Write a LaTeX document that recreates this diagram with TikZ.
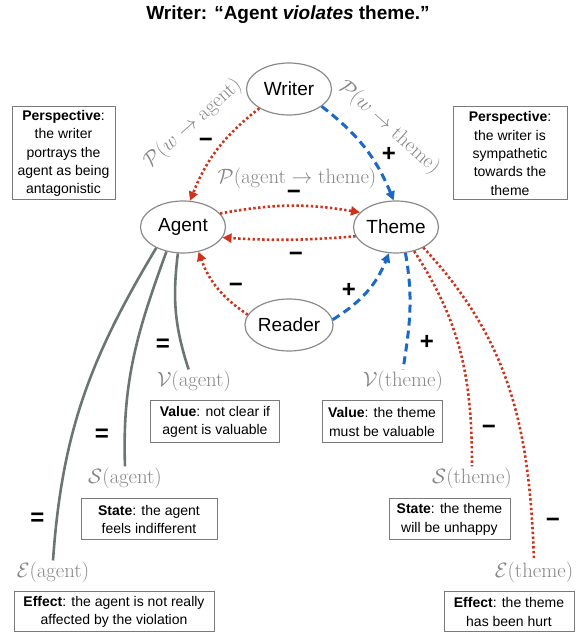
\documentclass[tikz,border=0pt]{standalone}
\usepackage{fix-cm}
\usepackage[no-math]{fontspec}
\setmainfont{Liberation Sans}
\usetikzlibrary{arrows.meta}
\usetikzlibrary{shapes.geometric}

\definecolor{negred}{HTML}{D0311A}
\definecolor{posblue}{HTML}{1A68C8}
\definecolor{neutgray}{HTML}{6C7671}
\definecolor{labgray}{HTML}{878787}
\definecolor{ringgray}{HTML}{8A8A8A}
\definecolor{boxgray}{HTML}{7A7A7A}

\begin{document}
\begin{tikzpicture}[x=1pt,y=1pt,
  role/.style={ellipse, draw=ringgray, line width=1.2pt, minimum width=85pt, minimum height=52pt, inner sep=0pt, font=\fontsize{19}{22}\selectfont},
  note/.style={draw=boxgray, line width=1pt, align=center, inner sep=2pt, font=\fontsize{14}{18.3}\selectfont},
  mlab/.style={text=labgray, inner sep=1pt, font=\fontsize{20.74}{24}\selectfont},
  sign/.style={inner sep=0pt, font=\fontsize{24}{24}\selectfont\bfseries},
  negline/.style={negred, line width=2.6pt, dash pattern=on 2.4pt off 2.4pt},
  posline/.style={posblue, line width=3pt, dash pattern=on 8pt off 5pt},
  neutline/.style={neutgray, line width=2.6pt},
  negarc/.style={negline, -{Triangle[length=9pt,width=9pt]}},
  posarc/.style={posline, -{Triangle[length=9pt,width=9pt]}}]
\useasboundingbox (0,0) rectangle (585,635);

\node[font=\fontsize{19}{22}\selectfont\bfseries] (title) at (288,620) {Writer: “Agent \textit{violates} theme.”};

% the three roles and the reader
\node[role] (writer) at (289,546) {Writer};
\node[role] (agent) at (183,408) {Agent};
\node[role] (theme) at (396,408) {Theme};
\node[role] (reader) at (289,310) {Reader};

% sentiment labels
\node[mlab, rotate=41.6] (pwa) at (193,511.5) {$\mathcal{P}(w\rightarrow\mathrm{agent})$};
\node[mlab, rotate=-42] (pwt) at (389,507.5) {$\mathcal{P}(w\rightarrow\mathrm{theme})$};
\node[mlab] (pat) at (297,457) {$\mathcal{P}(\mathrm{agent}\rightarrow\mathrm{theme})$};
\node[mlab] (vagent) at (194,254) {$\mathcal{V}(\mathrm{agent})$};
\node[mlab] (vtheme) at (403,254) {$\mathcal{V}(\mathrm{theme})$};
\node[mlab] (sagent) at (125,157) {$\mathcal{S}(\mathrm{agent})$};
\node[mlab] (stheme) at (472,157) {$\mathcal{S}(\mathrm{theme})$};
\node[mlab] (eagent) at (53,63) {$\mathcal{E}(\mathrm{agent})$};
\node[mlab] (etheme) at (534,63) {$\mathcal{E}(\mathrm{theme})$};

% explanation boxes
\node[note, minimum width=103pt, minimum height=93pt] (persl) at (63.5,481.5) {\textbf{Perspective}:\\the writer\\portrays the\\agent as being\\antagonistic};
\node[note, minimum width=114pt, minimum height=93pt] (persr) at (510,481.5) {\textbf{Perspective}:\\the writer is\\sympathetic\\towards the\\theme};
\node[note, minimum width=129pt, minimum height=42pt] (vall) at (215,213) {\textbf{Value}: not clear if\\agent is valuable};
\node[note, minimum width=120pt, minimum height=42pt] (valr) at (382,213) {\textbf{Value}: the theme\\must be valuable};
\node[note, minimum width=136pt, minimum height=41pt] (statel) at (149,115.5) {\textbf{State}: the agent\\feels indifferent};
\node[note, minimum width=121pt, minimum height=41pt] (stater) at (449.5,115.5) {\textbf{State}: the theme\\will be unhappy};
\node[note, minimum width=200pt, minimum height=40pt] (effl) at (114,23) {\textbf{Effect}: the agent is not really\\affected by the violation};
\node[note, minimum width=130pt, minimum height=40pt] (effr) at (509,23) {\textbf{Effect}: the theme\\has been hurt};

% perspectives
\draw[negarc] (writer.213) to[bend right=15] (agent.75);
\draw[posarc] (writer.-28) to[bend left=15] (theme.95);
\draw[negarc] (agent.20) to[bend left=10] (theme.158);
\draw[negarc] (theme.193) to[bend left=4] (agent.-15);
\draw[negarc] (reader.166) to[bend left=18] (agent.-58);
\draw[posarc] (reader.7) to[bend right=18] (theme.-105);

% value, state, effect
\draw[neutline] (agent.-101) to[out=-97,in=108] (vagent.115);
\draw[neutline] (agent.-124) to[out=-110,in=92] (sagent.north);
\draw[neutline] (agent.-142) to[out=-121,in=86] (eagent.north);
\draw[posline] (theme.-70) to[out=-80,in=81] (vtheme.north);
\draw[negline] (theme.-53) to[out=-57,in=90] (stheme.north);
\draw[negline] (theme.-37) to[out=-47,in=92] (etheme.north);

\foreach \sx/\sy/\st [count=\i] in {206/492/−, 389/481/+, 294/440/−, 296/378/−, 236/347/−, 349/345/+,
    163/290/=, 427/293/+, 102/200/=, 489/205/−, 37.5/116/=, 553/112/−}
  \node[sign] (sign\i) at (\sx,\sy) {\st};

\end{tikzpicture}
\end{document}
